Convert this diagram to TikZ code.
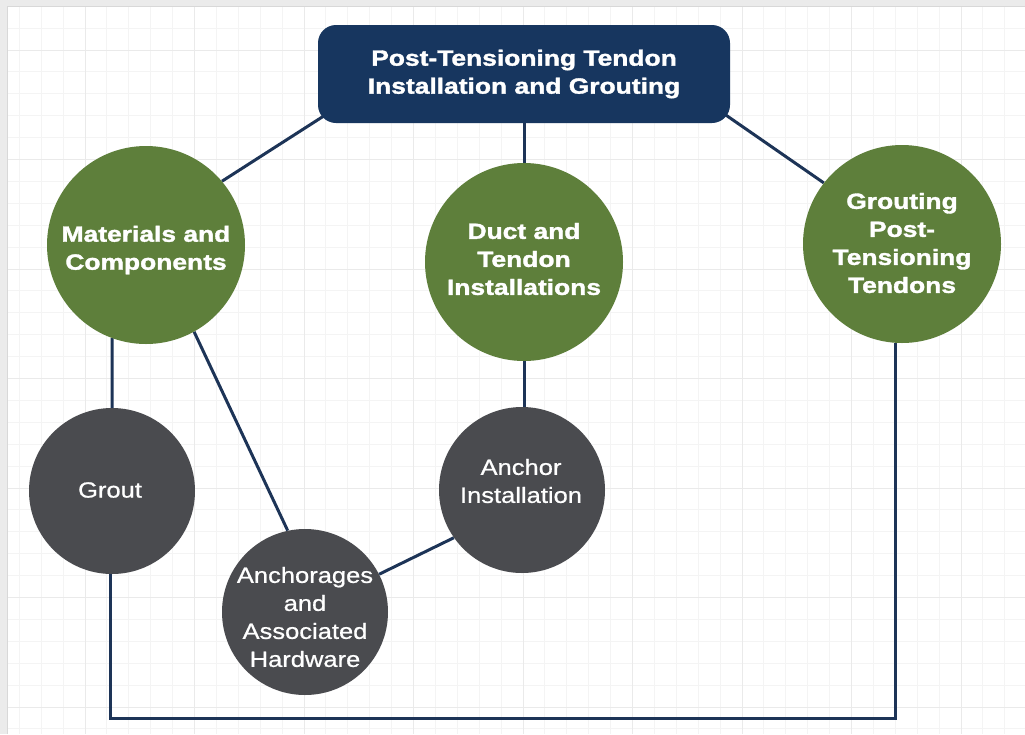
\documentclass[tikz,border=0pt]{standalone}
\usepackage{fontspec}
\setmainfont{Liberation Sans}[UprightFeatures={FakeStretch=1.16,FakeBold=0.8},BoldFeatures={FakeStretch=1.2,FakeBold=1.6}]
\definecolor{navy}{HTML}{17365F}
\definecolor{conncol}{HTML}{1D3457}
\definecolor{leaf}{HTML}{5E7F3B}
\definecolor{slate}{HTML}{4A4B4F}
\definecolor{gridminor}{HTML}{F4F4F4}
\definecolor{gridmajor}{HTML}{EAEAEA}
\definecolor{framegray}{HTML}{EBEBEB}
\definecolor{frameedge}{HTML}{D8D8D8}
\pgfdeclarelayer{gridlayer}
\pgfdeclarelayer{edges}
\pgfsetlayers{gridlayer,edges,main}
\tikzset{
  topbox/.style={fill=navy, rounded corners=18pt, minimum width=412pt, minimum height=98pt,
    text=white, align=center, inner sep=0pt, font=\bfseries\fontsize{22}{28}\selectfont},
  greenc/.style={circle, fill=leaf, minimum size=198pt, inner sep=0pt},
  grayc/.style={circle, fill=slate, minimum size=166pt, inner sep=0pt},
  gtext/.style={text=white, align=center, inner sep=0pt, font=\bfseries\fontsize{22}{28}\selectfont},
  stext/.style={text=white, align=center, inner sep=0pt, font=\fontsize{22}{28}\selectfont},
  conn/.style={draw=conncol, line width=3pt},
  gminor/.style={draw=gridminor, line width=1pt},
  gmajor/.style={draw=gridmajor, line width=1pt}
}
\begin{document}
\begin{tikzpicture}[x=1pt,y=-1pt]
\useasboundingbox (0,0) rectangle (1025,734);
\begin{pgfonlayer}{gridlayer}
  \fill[white] (0,0) rectangle (1025,734);
  \foreach \k in {-3,...,43} {\draw[gminor] ({85+21.9*\k},6) -- ++(0,728);}
  \foreach \k in {-2,...,31} {\draw[gminor] (7,{50+21.9*\k}) -- ++(1018,0);}
  \foreach \k in {0,...,8} {\draw[gmajor] ({85+109.5*\k},6) -- ++(0,728);}
  \foreach \k in {0,...,6} {\draw[gmajor] (7,{50+109.5*\k}) -- ++(1018,0);}
  \fill[framegray] (0,0) rectangle (7,734);
  \fill[framegray] (0,0) rectangle (1025,6);
  \draw[frameedge, line width=1pt] (7,734) -- (7,6) -- (1025,6);
\end{pgfonlayer}

\node[topbox] (top) at (524,74) {Post-Tensioning Tendon\\Installation and Grouting};
\node[greenc] (mat) at (146,245) {};
\node[greenc] (duct) at (524,262) {};
\node[greenc] (gpt) at (902,244) {};
\node[grayc] (grout) at (112,491) {};
\node[grayc] (anch) at (522,490) {};
\node[grayc] (hw) at (305,612) {};

\node[gtext] (matT) at (146,250) {Materials and\\Components};
\node[gtext] (ductT) at (524,259) {Duct and\\Tendon\\Installations};
\node[gtext] (gptT) at (902,243) {Grouting\\Post-\\Tensioning\\Tendons};
\node[stext] (groutT) at (110,490) {Grout};
\node[stext] (anchT) at (521,481) {Anchor\\Installation};
\node[stext] (hwT) at (305,617) {Anchorages\\and\\Associated\\Hardware};

\coordinate (tl) at (330,112);
\coordinate (tr) at (720,111);
\coordinate (low) at (0,718);

\begin{pgfonlayer}{edges}
  \draw[conn] (tl) -- (mat.40);
  \draw[conn] (top.south) -- (duct.north);
  \draw[conn] (tr) -- (gpt.142);
  \draw[conn] (mat.250) -- (grout.north);
  \draw[conn] (mat.-61) -- (hw.102);
  \draw[conn] (duct.south) -- (duct.south |- anch.north);
  \draw[conn] (anch.215) -- (hw.27);
  \draw[conn] (grout.-91) -- (grout.-91 |- low) -| (gpt.-94);
\end{pgfonlayer}
\end{tikzpicture}
\end{document}
